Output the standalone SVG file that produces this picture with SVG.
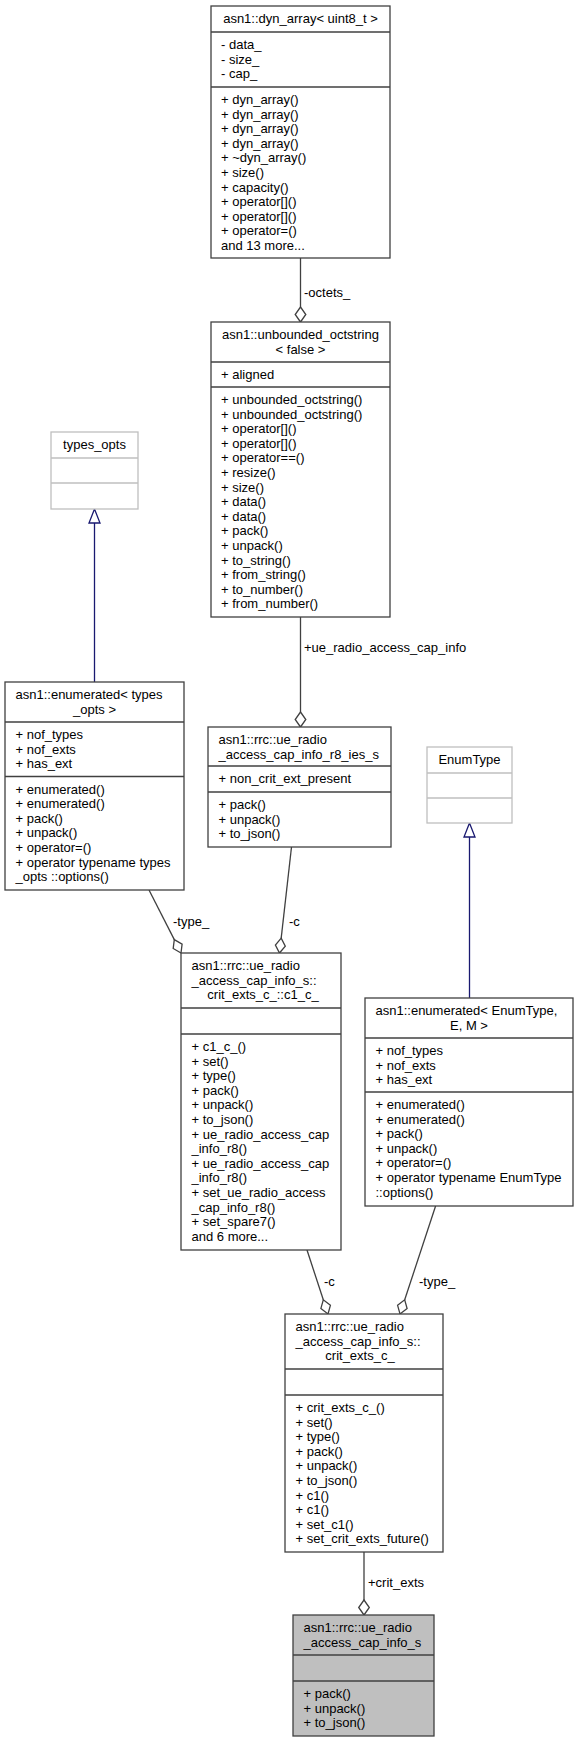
<svg xmlns="http://www.w3.org/2000/svg" width="579" height="1741" viewBox="0 0 579 1741">
<style>
text{font-family:"Liberation Sans",Arial,sans-serif;font-size:13px;fill:#000}
.m{text-anchor:middle}
.box{fill:#fff;stroke:#404040;stroke-width:1.3}
.main{fill:#bfbfbf;stroke:#404040;stroke-width:1.3}
.ext{fill:#fff;stroke:#bfbfbf;stroke-width:1.3}
.dv{stroke:#404040;stroke-width:1.3}
.dvg{stroke:#bfbfbf;stroke-width:1.3}
.e{fill:none;stroke:#404040;stroke-width:1.3}
.d{fill:#fff;stroke:#404040;stroke-width:1.3}
.inh{fill:none;stroke:#191970;stroke-width:1.3}
.tri{fill:#fff;stroke:#191970;stroke-width:1.3}
</style>
<rect width="579" height="1741" fill="#fff"/>
<g id="connectors">
<line class="e" x1="300.5" y1="258" x2="300.5" y2="307"/>
<polygon class="d" points="300.5,322 295.2,314.5 300.5,307 305.8,314.5"/>
<text x="304" y="297">-octets_</text>
<line class="e" x1="300.5" y1="617" x2="300.5" y2="712"/>
<polygon class="d" points="300.5,727 295.2,719.5 300.5,712 305.8,719.5"/>
<text x="304" y="652">+ue_radio_access_cap_info</text>
<line class="inh" x1="94.5" y1="523" x2="94.5" y2="682"/>
<polygon class="tri" points="94.5,509 89,523 100,523"/>
<line class="inh" x1="469.5" y1="837" x2="469.5" y2="998"/>
<polygon class="tri" points="469.5,823 464,837 475,837"/>
<line class="e" x1="149" y1="890" x2="174.3" y2="939.6"/>
<polygon class="d" points="181,953 182.1,944.1 174.3,939.6 173.2,948.5"/>
<text x="173" y="926">-type_</text>
<line class="e" x1="291.5" y1="847" x2="281.2" y2="938.1"/>
<polygon class="d" points="279.5,953 285.3,946.1 281.2,938.1 275.4,945"/>
<text x="289" y="926">-c</text>
<line class="e" x1="307" y1="1250" x2="323.3" y2="1299.8"/>
<polygon class="d" points="328,1314 330.4,1305.3 323.3,1299.8 320.9,1308.4"/>
<text x="324" y="1286">-c</text>
<line class="e" x1="435.6" y1="1206" x2="404.7" y2="1299.8"/>
<polygon class="d" points="400,1314 407.1,1308.5 404.7,1299.8 397.6,1305.3"/>
<text x="419" y="1286">-type_</text>
<line class="e" x1="364" y1="1552" x2="364" y2="1600"/>
<polygon class="d" points="364,1615 358.7,1607.5 364,1600 369.3,1607.5"/>
<text x="368" y="1587">+crit_exts</text>
</g>
<g id="node_dyn_array">
<rect class="box" x="211" y="6" width="179" height="252"/>
<line class="dv" x1="211" y1="32" x2="390" y2="32"/>
<line class="dv" x1="211" y1="87" x2="390" y2="87"/>
<text class="m" x="300.5" y="23">asn1::dyn_array&lt; uint8_t &gt;</text>
<text x="221" y="49">- data_<tspan x="221" dy="14.6">- size_</tspan><tspan x="221" dy="14.6">- cap_</tspan></text>
<text x="221" y="104">+ dyn_array()<tspan x="221" dy="14.6">+ dyn_array()</tspan><tspan x="221" dy="14.6">+ dyn_array()</tspan><tspan x="221" dy="14.6">+ dyn_array()</tspan><tspan x="221" dy="14.6">+ ~dyn_array()</tspan><tspan x="221" dy="14.6">+ size()</tspan><tspan x="221" dy="14.6">+ capacity()</tspan><tspan x="221" dy="14.6">+ operator[]()</tspan><tspan x="221" dy="14.6">+ operator[]()</tspan><tspan x="221" dy="14.6">+ operator=()</tspan><tspan x="221" dy="14.6">and 13 more...</tspan></text>
</g>
<g id="node_unbounded_octstring">
<rect class="box" x="211" y="322" width="179" height="295"/>
<line class="dv" x1="211" y1="362" x2="390" y2="362"/>
<line class="dv" x1="211" y1="387" x2="390" y2="387"/>
<text class="m" x="300.5" y="339">asn1::unbounded_octstring<tspan x="300.5" dy="14.6">&lt; false &gt;</tspan></text>
<text x="221" y="379">+ aligned</text>
<text x="221" y="404">+ unbounded_octstring()<tspan x="221" dy="14.6">+ unbounded_octstring()</tspan><tspan x="221" dy="14.6">+ operator[]()</tspan><tspan x="221" dy="14.6">+ operator[]()</tspan><tspan x="221" dy="14.6">+ operator==()</tspan><tspan x="221" dy="14.6">+ resize()</tspan><tspan x="221" dy="14.6">+ size()</tspan><tspan x="221" dy="14.6">+ data()</tspan><tspan x="221" dy="14.6">+ data()</tspan><tspan x="221" dy="14.6">+ pack()</tspan><tspan x="221" dy="14.6">+ unpack()</tspan><tspan x="221" dy="14.6">+ to_string()</tspan><tspan x="221" dy="14.6">+ from_string()</tspan><tspan x="221" dy="14.6">+ to_number()</tspan><tspan x="221" dy="14.6">+ from_number()</tspan></text>
</g>
<g id="node_types_opts">
<rect class="ext" x="51" y="432" width="87" height="77"/>
<line class="dvg" x1="51" y1="458" x2="138" y2="458"/>
<line class="dvg" x1="51" y1="483" x2="138" y2="483"/>
<text class="m" x="94.5" y="449">types_opts</text>
</g>
<g id="node_enumerated_types_opts">
<rect class="box" x="5" y="682" width="179" height="208"/>
<line class="dv" x1="5" y1="722" x2="184" y2="722"/>
<line class="dv" x1="5" y1="776.5" x2="184" y2="776.5"/>
<text x="15.5" y="699">asn1::enumerated&lt; types</text>
<text class="m" x="94.5" y="713.6">_opts &gt;</text>
<text x="15.5" y="739">+ nof_types<tspan x="15.5" dy="14.6">+ nof_exts</tspan><tspan x="15.5" dy="14.6">+ has_ext</tspan></text>
<text x="15.5" y="793.5">+ enumerated()<tspan x="15.5" dy="14.6">+ enumerated()</tspan><tspan x="15.5" dy="14.6">+ pack()</tspan><tspan x="15.5" dy="14.6">+ unpack()</tspan><tspan x="15.5" dy="14.6">+ operator=()</tspan><tspan x="15.5" dy="14.6">+ operator typename types</tspan><tspan x="15.5" dy="14.6">_opts ::options()</tspan></text>
</g>
<g id="node_r8_ies">
<rect class="box" x="208" y="727" width="183" height="120"/>
<line class="dv" x1="208" y1="766" x2="391" y2="766"/>
<line class="dv" x1="208" y1="792" x2="391" y2="792"/>
<text x="218.5" y="744">asn1::rrc::ue_radio<tspan x="218.5" dy="14.6">_access_cap_info_r8_ies_s</tspan></text>
<text x="218.5" y="783">+ non_crit_ext_present</text>
<text x="218.5" y="809">+ pack()<tspan x="218.5" dy="14.6">+ unpack()</tspan><tspan x="218.5" dy="14.6">+ to_json()</tspan></text>
</g>
<g id="node_EnumType">
<rect class="ext" x="427" y="747" width="85" height="76"/>
<line class="dvg" x1="427" y1="773" x2="512" y2="773"/>
<line class="dvg" x1="427" y1="798" x2="512" y2="798"/>
<text class="m" x="469.5" y="764">EnumType</text>
</g>
<g id="node_enumerated_EnumType">
<rect class="box" x="365" y="998" width="208" height="208"/>
<line class="dv" x1="365" y1="1038" x2="573" y2="1038"/>
<line class="dv" x1="365" y1="1092" x2="573" y2="1092"/>
<text x="375.5" y="1015">asn1::enumerated&lt; EnumType,</text>
<text class="m" x="469" y="1029.6">E, M &gt;</text>
<text x="375.5" y="1055">+ nof_types<tspan x="375.5" dy="14.6">+ nof_exts</tspan><tspan x="375.5" dy="14.6">+ has_ext</tspan></text>
<text x="375.5" y="1109">+ enumerated()<tspan x="375.5" dy="14.6">+ enumerated()</tspan><tspan x="375.5" dy="14.6">+ pack()</tspan><tspan x="375.5" dy="14.6">+ unpack()</tspan><tspan x="375.5" dy="14.6">+ operator=()</tspan><tspan x="375.5" dy="14.6">+ operator typename EnumType</tspan><tspan x="375.5" dy="14.6">::options()</tspan></text>
</g>
<g id="node_c1_c">
<rect class="box" x="181" y="953" width="160" height="297"/>
<line class="dv" x1="181" y1="1008" x2="341" y2="1008"/>
<line class="dv" x1="181" y1="1034" x2="341" y2="1034"/>
<text x="191.5" y="970">asn1::rrc::ue_radio<tspan x="191.5" dy="14.6">_access_cap_info_s::</tspan></text>
<text class="m" x="263" y="999.2">crit_exts_c_::c1_c_</text>
<text x="191.5" y="1051">+ c1_c_()<tspan x="191.5" dy="14.6">+ set()</tspan><tspan x="191.5" dy="14.6">+ type()</tspan><tspan x="191.5" dy="14.6">+ pack()</tspan><tspan x="191.5" dy="14.6">+ unpack()</tspan><tspan x="191.5" dy="14.6">+ to_json()</tspan><tspan x="191.5" dy="14.6">+ ue_radio_access_cap</tspan><tspan x="191.5" dy="14.6">_info_r8()</tspan><tspan x="191.5" dy="14.6">+ ue_radio_access_cap</tspan><tspan x="191.5" dy="14.6">_info_r8()</tspan><tspan x="191.5" dy="14.6">+ set_ue_radio_access</tspan><tspan x="191.5" dy="14.6">_cap_info_r8()</tspan><tspan x="191.5" dy="14.6">+ set_spare7()</tspan><tspan x="191.5" dy="14.6">and 6 more...</tspan></text>
</g>
<g id="node_crit_exts_c">
<rect class="box" x="285" y="1314" width="158" height="238"/>
<line class="dv" x1="285" y1="1369" x2="443" y2="1369"/>
<line class="dv" x1="285" y1="1395" x2="443" y2="1395"/>
<text x="295.5" y="1331">asn1::rrc::ue_radio<tspan x="295.5" dy="14.6">_access_cap_info_s::</tspan></text>
<text class="m" x="360" y="1360.2">crit_exts_c_</text>
<text x="295.5" y="1412">+ crit_exts_c_()<tspan x="295.5" dy="14.6">+ set()</tspan><tspan x="295.5" dy="14.6">+ type()</tspan><tspan x="295.5" dy="14.6">+ pack()</tspan><tspan x="295.5" dy="14.6">+ unpack()</tspan><tspan x="295.5" dy="14.6">+ to_json()</tspan><tspan x="295.5" dy="14.6">+ c1()</tspan><tspan x="295.5" dy="14.6">+ c1()</tspan><tspan x="295.5" dy="14.6">+ set_c1()</tspan><tspan x="295.5" dy="14.6">+ set_crit_exts_future()</tspan></text>
</g>
<g id="node_ue_radio_access_cap_info_s">
<rect class="main" x="293" y="1615" width="141" height="121"/>
<line class="dv" x1="293" y1="1655" x2="434" y2="1655"/>
<line class="dv" x1="293" y1="1681" x2="434" y2="1681"/>
<text x="303.5" y="1632">asn1::rrc::ue_radio<tspan x="303.5" dy="14.6">_access_cap_info_s</tspan></text>
<text x="303.5" y="1698">+ pack()<tspan x="303.5" dy="14.6">+ unpack()</tspan><tspan x="303.5" dy="14.6">+ to_json()</tspan></text>
</g>
</svg>
